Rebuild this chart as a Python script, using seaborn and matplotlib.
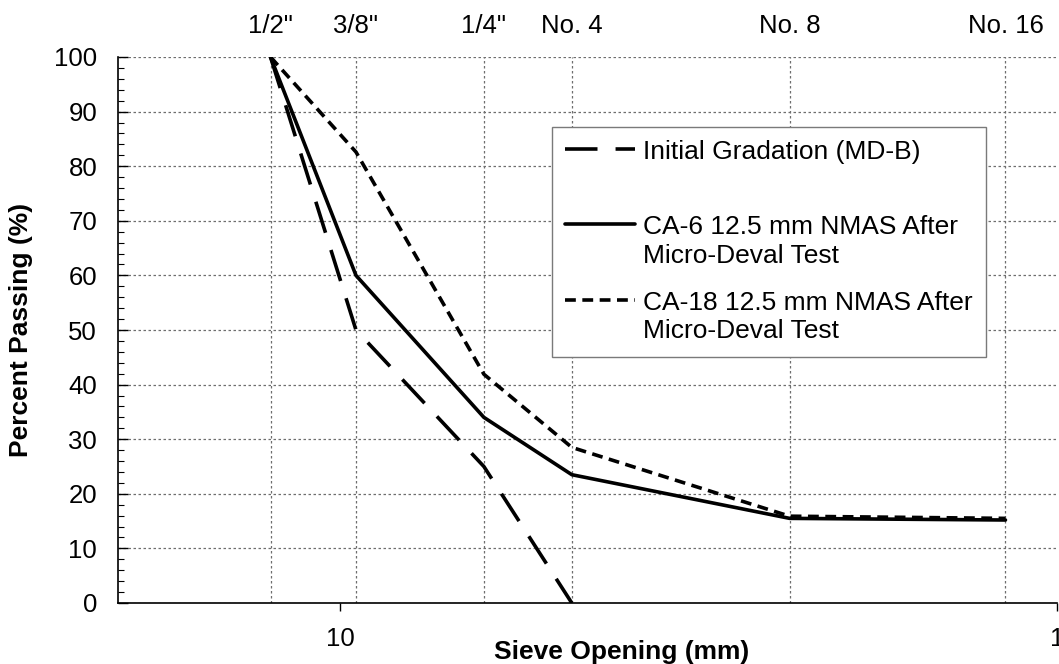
import matplotlib
matplotlib.use("Agg")
import matplotlib.pyplot as plt
import seaborn as sns
import pandas as pd
from matplotlib.lines import Line2D
from matplotlib.legend_handler import HandlerLine2D
from matplotlib.ticker import FixedLocator, NullFormatter, MultipleLocator

# ---- data ----
sieve_mm = [12.5, 9.5, 6.3, 4.75, 2.36, 1.18]
sieve_labels = ['1/2"', '3/8"', '1/4"', 'No. 4', 'No. 8', 'No. 16']
initial_mm = [12.5, 9.5, 6.3, 4.75]
initial_pass = [100, 50, 25, 0]
ca6_pass = [100, 60, 34, 23.5, 15.5, 15.2]
ca18_pass = [100, 82.6, 41.9, 28.5, 15.9, 15.5]
labels = ["Initial Gradation (MD-B)\n ",
          "CA-6 12.5 mm NMAS After\nMicro-Deval Test",
          "CA-18 12.5 mm NMAS After\nMicro-Deval Test"]

sns.set_theme(style="white")
plt.rcParams['font.family'] = ['Liberation Sans', 'DejaVu Sans']
plt.rcParams.update({"text.color": "black", "axes.labelcolor": "black",
                     "xtick.color": "black", "ytick.color": "black"})

fig = plt.figure(figsize=(10.59, 6.64), dpi=100)
ax = fig.add_axes([118/1059, 61/664, 939/1059, 546/664])

df0 = pd.DataFrame({"x": initial_mm, "y": initial_pass})
df1 = pd.DataFrame({"x": sieve_mm, "y": ca6_pass})
df2 = pd.DataFrame({"x": sieve_mm, "y": ca18_pass})

sns.lineplot(data=df0, x="x", y="y", ax=ax, color="black", lw=2.6,
             linestyle=(0, (9, 5)), label=labels[0], estimator=None, sort=False)
sns.lineplot(data=df1, x="x", y="y", ax=ax, color="black", lw=2.6,
             linestyle="-", label=labels[1], estimator=None, sort=False)
sns.lineplot(data=df2, x="x", y="y", ax=ax, color="black", lw=2.6,
             linestyle=(0, (3.0, 1.8)), label=labels[2], estimator=None, sort=False)

ax.set_xscale("log")
ax.set_xlim(20.4, 1.0)
ax.set_ylim(0, 100)

# x: major ticks 10 and 1 on bottom; sieve sizes as minor ticks for grid
ax.xaxis.set_major_locator(FixedLocator([10, 1]))
ax.set_xticklabels(["10", "1"])
ax.xaxis.set_minor_locator(FixedLocator(sieve_mm))
ax.xaxis.set_minor_formatter(NullFormatter())
ax.tick_params(axis="x", which="major", direction="out", length=6, width=1,
               color="black", labelcolor="black", labelsize=18.5, pad=11, bottom=True)
ax.tick_params(axis="x", which="minor", length=0, bottom=False)

ax.yaxis.set_major_locator(MultipleLocator(10))
ax.yaxis.set_minor_locator(MultipleLocator(2))
ax.tick_params(axis="y", which="major", direction="in", length=7, width=1,
               color="black", labelcolor="black", labelsize=18.5, pad=15, left=True)
ax.tick_params(axis="y", which="minor", direction="in", length=4, width=0.8,
               color="black", left=True)

ax.grid(False)
ax.xaxis.grid(True, which="minor", color="#6e6e6e", lw=0.9, linestyle=(0, (2, 2)))
ax.yaxis.grid(True, which="major", color="#6e6e6e", lw=0.9, linestyle=(0, (2, 2)))
ax.set_axisbelow(True)

for s in ["top", "right"]:
    ax.spines[s].set_visible(False)
for s in ["left", "bottom"]:
    ax.spines[s].set_color("black")
    ax.spines[s].set_linewidth(1.2)

# top axis with sieve names
ax2 = ax.secondary_xaxis("top")
ax2.set_xticks(sieve_mm)
ax2.set_xticklabels(sieve_labels)
ax2.xaxis.set_minor_locator(FixedLocator([]))
ax2.tick_params(axis="x", length=0, labelsize=18.5, labelcolor="black", pad=14)
ax2.spines["top"].set_visible(False)

ax.set_xlabel("Sieve Opening (mm)", fontsize=19, fontweight="bold", color="black")
ax.set_ylabel("Percent Passing (%)", fontsize=19, fontweight="bold", color="black")
ax.xaxis.set_label_coords(0.536, -0.068)
ax.yaxis.set_label_coords(-0.091, 0.5)


class FirstLineHandler(HandlerLine2D):
    def __init__(self, shift, **kw):
        super().__init__(**kw)
        self.shift = shift

    def create_artists(self, legend, orig_handle, xdescent, ydescent,
                       width, height, fontsize, trans):
        arts = super().create_artists(legend, orig_handle, xdescent, ydescent,
                                      width, height, fontsize, trans)
        for a in arts:
            a.set_ydata([y + self.shift for y in a.get_ydata()])
        return arts


handles, labs = ax.get_legend_handles_labels()
leg = ax.legend(handles, labs, loc="upper left",
                bbox_to_anchor=((552-118)/939, (603-127)/546),
                borderaxespad=0, fontsize=19, frameon=True, fancybox=False,
                handlelength=2.65, handletextpad=0.3, borderpad=0.5,
                labelspacing=0.85,
                handler_map={Line2D: FirstLineHandler(12.7)})
leg.get_frame().set_edgecolor("#7a7a7a")
leg.get_frame().set_linewidth(1.0)
leg.get_frame().set_facecolor("white")
leg.get_frame().set_alpha(1)
for t in leg.get_texts():
    t.set_linespacing(1.25)
    t.set_color("black")

fig.savefig("out.png", dpi=100)
